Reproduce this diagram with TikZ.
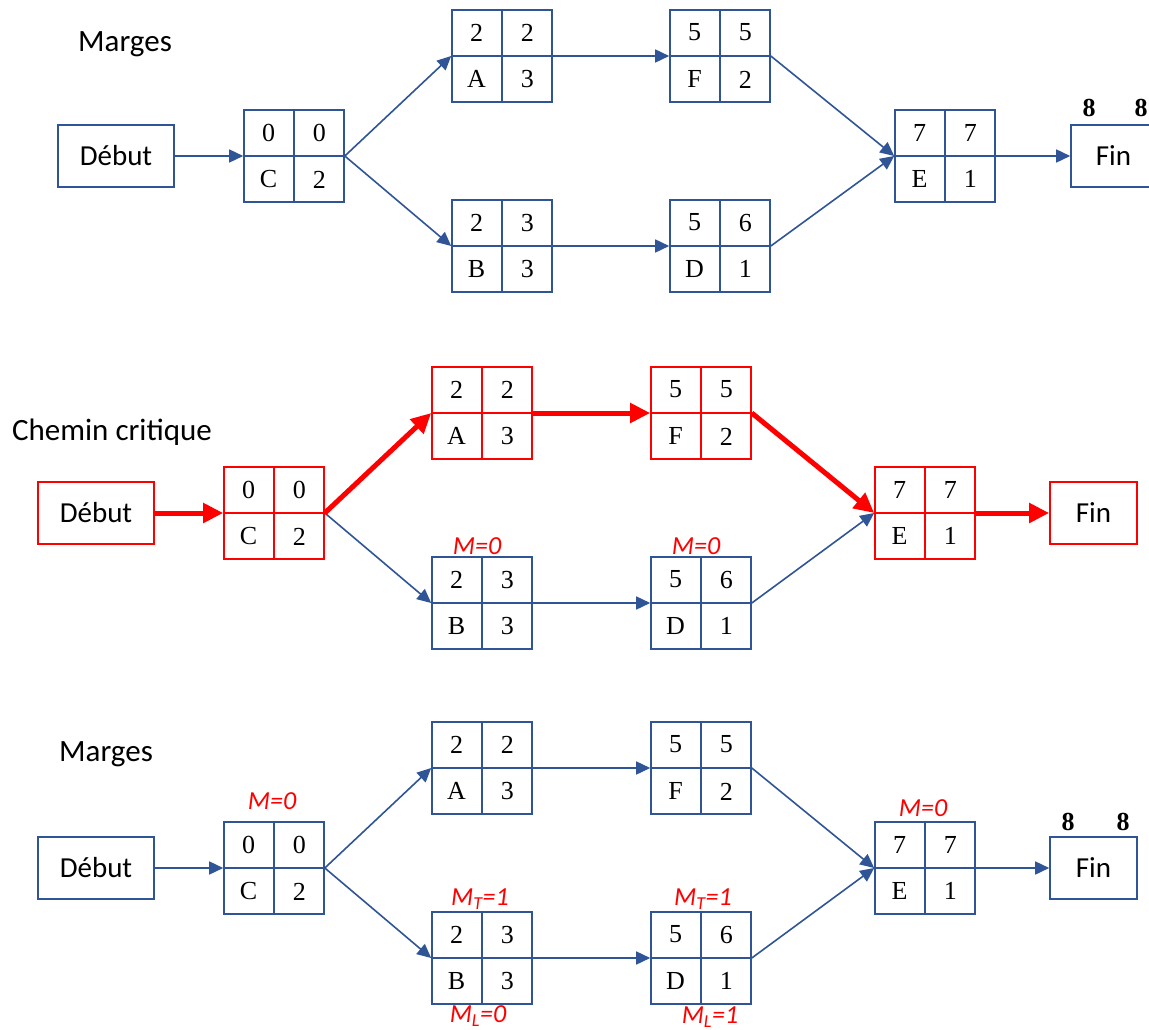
\documentclass[tikz,border=0pt]{standalone}
\usepackage{fontspec}
\setmainfont{Liberation Serif}
\newfontfamily\calibri{Carlito}
\usetikzlibrary{arrows.meta,calc}

\definecolor{netblue}{HTML}{2F5597}
\definecolor{critred}{HTML}{FF0000}

\tikzset{
  cellbox/.style={draw=#1, line width=1.6pt, minimum width=100pt, minimum height=92pt, inner sep=0pt},
  endbox/.style={draw=#1, line width=1.6pt, minimum height=62pt, inner sep=0pt, font=\calibri\fontsize{29}{32}\selectfont},
  num/.style={inner sep=0pt, font=\fontsize{26}{28}\selectfont},
  bignum/.style={inner sep=0pt, font=\bfseries\fontsize{26}{28}\selectfont},
  title/.style={inner sep=0pt, font=\calibri\fontsize{31}{34}\selectfont},
  marg/.style={inner sep=0pt, text=critred, font=\calibri\itshape\fontsize{26}{28}\selectfont},
  link/.style={draw=netblue, line width=1.6pt, -{Triangle[length=14pt,width=13pt]}},
  critlink/.style={draw=critred, line width=5pt, -{Triangle[length=20pt,width=19pt]}},
}

% task box: name, position, colour, earliest start, latest start, task, duration
\newcommand\taskbox[7]{%
  \node[cellbox=#3] (#1) at (#2) {};
  \draw[#3, line width=1.6pt] (#1.north) -- (#1.south) (#1.west) -- (#1.east);
  \node[num] at ($(#1.north west)!.5!(#1.center)$) {#4};
  \node[num] at ($(#1.north east)!.5!(#1.center)$) {#5};
  \node[num] at ($(#1.south west)!.5!(#1.center)$) {#6};
  \node[num] at ($(#1.south east)!.5!(#1.center)$) {#7};
}

\begin{document}
\begin{tikzpicture}[x=1pt, y=-1pt]
\clip (0,0) rectangle (1149,1030);
\fill[white] (0,0) rectangle (1149,1030);

% ---------- first network: margins ----------
\node[title] (t-title) at (125,44) {Marges};
\node[endbox=netblue, minimum width=116pt] (t-start) at (116,156) {Début};
\taskbox{t-C}{294,156}{netblue}{0}{0}{C}{2}
\taskbox{t-A}{502,56}{netblue}{2}{2}{A}{3}
\taskbox{t-F}{720,56}{netblue}{5}{5}{F}{2}
\taskbox{t-B}{502,246}{netblue}{2}{3}{B}{3}
\taskbox{t-D}{720,246}{netblue}{5}{6}{D}{1}
\taskbox{t-E}{945,156}{netblue}{7}{7}{E}{1}
\node[endbox=netblue, minimum width=85pt] (t-end) at (1113.5,156) {Fin};
\node[bignum] (t-end-a) at (1089,108) {8};
\node[bignum] (t-end-b) at (1141,108) {8};

\draw[link] (t-start.east) -- (t-C.west);
\draw[link] (t-C.east) -- (t-A.west);
\draw[link] (t-C.east) -- (t-B.west);
\draw[link] (t-A.east) -- (t-F.west);
\draw[link] (t-B.east) -- (t-D.west);
\draw[link] (t-F.east) -- (t-E.west);
\draw[link] (t-D.east) -- (t-E.west);
\draw[link] (t-E.east) -- (t-end.west);

% ---------- second network: critical path ----------
\node[title] (m-title) at (112,432) {Chemin critique};
\node[endbox=critred, minimum width=116pt] (m-start) at (96,513) {Début};
\taskbox{m-C}{274,513}{critred}{0}{0}{C}{2}
\taskbox{m-A}{482,413}{critred}{2}{2}{A}{3}
\taskbox{m-F}{701,413}{critred}{5}{5}{F}{2}
\taskbox{m-B}{482,603}{netblue}{2}{3}{B}{3}
\taskbox{m-D}{701,603}{netblue}{5}{6}{D}{1}
\taskbox{m-E}{925,513}{critred}{7}{7}{E}{1}
\node[endbox=critred, minimum width=87pt] (m-end) at (1093.5,513) {Fin};
\node[marg] (m-B-m) at (477,546) {M=0};
\node[marg] (m-D-m) at (696,546) {M=0};

\draw[link] (m-C.east) -- (m-B.west);
\draw[link] (m-B.east) -- (m-D.west);
\draw[link] (m-D.east) -- (m-E.west);
\draw[critlink] (m-start.east) -- (m-C.west);
\draw[critlink] (m-C.east) -- (m-A.west);
\draw[critlink] (m-A.east) -- (m-F.west);
\draw[critlink] (m-F.east) -- (m-E.west);
\draw[critlink] (m-E.east) -- (m-end.west);

% ---------- third network: margins ----------
\node[title] (b-title) at (106,754) {Marges};
\node[endbox=netblue, minimum width=116pt] (b-start) at (96,868) {Début};
\taskbox{b-C}{274,868}{netblue}{0}{0}{C}{2}
\taskbox{b-A}{482,768}{netblue}{2}{2}{A}{3}
\taskbox{b-F}{701,768}{netblue}{5}{5}{F}{2}
\taskbox{b-B}{482,958}{netblue}{2}{3}{B}{3}
\taskbox{b-D}{701,958}{netblue}{5}{6}{D}{1}
\taskbox{b-E}{925,868}{netblue}{7}{7}{E}{1}
\node[endbox=netblue, minimum width=87pt] (b-end) at (1093.5,868) {Fin};
\node[bignum] (b-end-a) at (1068,822) {8};
\node[bignum] (b-end-b) at (1123,822) {8};

\node[marg] (b-C-m) at (272,801) {M=0};
\node[marg] (b-E-m) at (923,808) {M=0};
\node[marg] (b-B-mt) at (480,899) {M\textsubscript{T}=1};
\node[marg] (b-D-mt) at (703,899) {M\textsubscript{T}=1};
\node[marg] (b-B-ml) at (478,1016) {M\textsubscript{L}=0};
\node[marg] (b-D-ml) at (710,1017) {M\textsubscript{L}=1};

\draw[link] (b-start.east) -- (b-C.west);
\draw[link] (b-C.east) -- (b-A.west);
\draw[link] (b-C.east) -- (b-B.west);
\draw[link] (b-A.east) -- (b-F.west);
\draw[link] (b-B.east) -- (b-D.west);
\draw[link] (b-F.east) -- (b-E.west);
\draw[link] (b-D.east) -- (b-E.west);
\draw[link] (b-E.east) -- (b-end.west);
\end{tikzpicture}
\end{document}
